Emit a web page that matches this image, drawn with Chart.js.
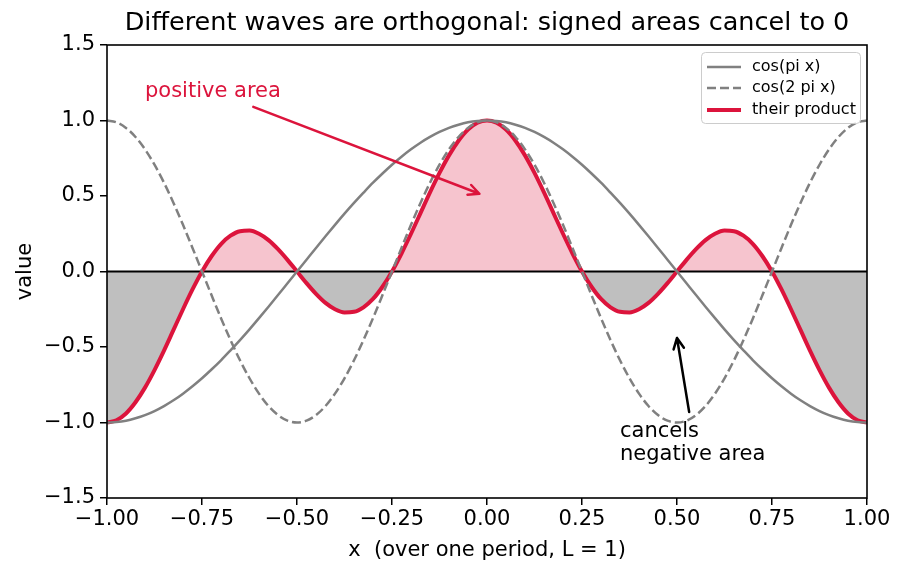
<!DOCTYPE html>
<html>
<head>
<meta charset="utf-8">
<script src="https://cdn.jsdelivr.net/npm/chart.js@4.4.1/dist/chart.umd.min.js"></script>
<style>
  html, body { margin: 0; padding: 0; background: #fff; }
  #wrap { width: 904px; height: 573px; }
</style>
</head>
<body>
<div id="wrap"><canvas id="chart"></canvas></div>
<script>
// x samples over one period
const xs = [
  -1, -0.975, -0.95, -0.925, -0.9, -0.875, -0.85, -0.825, -0.8, -0.775,
  -0.75, -0.725, -0.7, -0.675, -0.65, -0.625, -0.6, -0.575, -0.55, -0.525,
  -0.5, -0.475, -0.45, -0.425, -0.4, -0.375, -0.35, -0.325, -0.3, -0.275,
  -0.25, -0.225, -0.2, -0.175, -0.15, -0.125, -0.1, -0.075, -0.05, -0.025,
  0,
  0.025, 0.05, 0.075, 0.1, 0.125, 0.15, 0.175, 0.2, 0.225, 0.25,
  0.275, 0.3, 0.325, 0.35, 0.375, 0.4, 0.425, 0.45, 0.475, 0.5,
  0.525, 0.55, 0.575, 0.6, 0.625, 0.65, 0.675, 0.7, 0.725, 0.75,
  0.775, 0.8, 0.825, 0.85, 0.875, 0.9, 0.925, 0.95, 0.975, 1
];
const cosPi = [
  -1.000, -0.997, -0.988, -0.972, -0.951, -0.924, -0.891, -0.853, -0.809, -0.760,
  -0.707, -0.649, -0.588, -0.522, -0.454, -0.383, -0.309, -0.233, -0.156, -0.078,
  0.000, 0.078, 0.156, 0.233, 0.309, 0.383, 0.454, 0.522, 0.588, 0.649,
  0.707, 0.760, 0.809, 0.853, 0.891, 0.924, 0.951, 0.972, 0.988, 0.997,
  1.000,
  0.997, 0.988, 0.972, 0.951, 0.924, 0.891, 0.853, 0.809, 0.760, 0.707,
  0.649, 0.588, 0.522, 0.454, 0.383, 0.309, 0.233, 0.156, 0.078, 0.000,
  -0.078, -0.156, -0.233, -0.309, -0.383, -0.454, -0.522, -0.588, -0.649, -0.707,
  -0.760, -0.809, -0.853, -0.891, -0.924, -0.951, -0.972, -0.988, -0.997, -1.000
];
const cos2Pi = [
  1.000, 0.988, 0.951, 0.891, 0.809, 0.707, 0.588, 0.454, 0.309, 0.156,
  0.000, -0.156, -0.309, -0.454, -0.588, -0.707, -0.809, -0.891, -0.951, -0.988,
  -1.000, -0.988, -0.951, -0.891, -0.809, -0.707, -0.588, -0.454, -0.309, -0.156,
  0.000, 0.156, 0.309, 0.454, 0.588, 0.707, 0.809, 0.891, 0.951, 0.988,
  1.000,
  0.988, 0.951, 0.891, 0.809, 0.707, 0.588, 0.454, 0.309, 0.156, 0.000,
  -0.156, -0.309, -0.454, -0.588, -0.707, -0.809, -0.891, -0.951, -0.988, -1.000,
  -0.988, -0.951, -0.891, -0.809, -0.707, -0.588, -0.454, -0.309, -0.156, 0.000,
  0.156, 0.309, 0.454, 0.588, 0.707, 0.809, 0.891, 0.951, 0.988, 1.000
];
const product = [
  -1.000, -0.985, -0.940, -0.866, -0.769, -0.653, -0.524, -0.387, -0.250, -0.119,
  0.000, 0.101, 0.182, 0.237, 0.267, 0.271, 0.250, 0.208, 0.148, 0.077,
  0.000, -0.077, -0.148, -0.208, -0.250, -0.271, -0.267, -0.237, -0.182, -0.101,
  0.000, 0.119, 0.250, 0.387, 0.524, 0.653, 0.769, 0.866, 0.940, 0.985,
  1.000,
  0.985, 0.940, 0.866, 0.769, 0.653, 0.524, 0.387, 0.250, 0.119, 0.000,
  -0.101, -0.182, -0.237, -0.267, -0.271, -0.250, -0.208, -0.148, -0.077, 0.000,
  0.077, 0.148, 0.208, 0.250, 0.271, 0.267, 0.237, 0.182, 0.101, 0.000,
  -0.119, -0.250, -0.387, -0.524, -0.653, -0.769, -0.866, -0.940, -0.985, -1.000
];
const xTicks = [-1, -0.75, -0.5, -0.25, 0, 0.25, 0.5, 0.75, 1];
const yTicks = [-1.5, -1, -0.5, 0, 0.5, 1, 1.5];
const seriesNames = ['cos(pi x)', 'cos(2 pi x)', 'their product'];

const FONT = "'DejaVu Sans', sans-serif";
const CRIMSON = '#dc143c';
const GREY = '#808080';

const pts = (ys) => xs.map((x, i) => ({ x: x, y: ys[i] }));
const fmt = (v, d) => v.toFixed(d).replace('-', '\u2212');

function arrow(ctx, x0, y0, x1, y1, color, lw) {
  const a = Math.atan2(y1 - y0, x1 - x0);
  const h = 12, spread = 0.45;
  ctx.save();
  ctx.strokeStyle = color;
  ctx.lineWidth = lw;
  ctx.lineCap = 'round';
  ctx.lineJoin = 'round';
  ctx.beginPath();
  ctx.moveTo(x0, y0);
  ctx.lineTo(x1, y1);
  ctx.moveTo(x1 - h * Math.cos(a - spread), y1 - h * Math.sin(a - spread));
  ctx.lineTo(x1, y1);
  ctx.lineTo(x1 - h * Math.cos(a + spread), y1 - h * Math.sin(a + spread));
  ctx.stroke();
  ctx.restore();
}

const decor = {
  id: 'decor',
  beforeDraw(chart) {
    const ctx = chart.ctx;
    ctx.save();
    ctx.fillStyle = '#fff';
    ctx.fillRect(0, 0, chart.width, chart.height);
    ctx.restore();
  },
  beforeDatasetsDraw(chart) {
    const { ctx, chartArea: a, scales } = chart;
    const y0 = scales.y.getPixelForValue(0);
    ctx.save();
    ctx.strokeStyle = '#000';
    ctx.lineWidth = 1.8;
    ctx.beginPath();
    ctx.moveTo(a.left, y0);
    ctx.lineTo(a.right, y0);
    ctx.stroke();
    ctx.restore();
  },
  afterDatasetsDraw(chart) {
    const { ctx, chartArea: a, scales } = chart;
    const px = (v) => scales.x.getPixelForValue(v);
    const py = (v) => scales.y.getPixelForValue(v);

    // frame
    ctx.save();
    ctx.strokeStyle = '#000';
    ctx.lineWidth = 1.6;
    ctx.strokeRect(a.left, a.top, a.right - a.left, a.bottom - a.top);
    ctx.restore();

    // title
    ctx.save();
    ctx.fillStyle = '#000';
    ctx.font = '25.5px ' + FONT;
    ctx.textAlign = 'center';
    ctx.textBaseline = 'middle';
    ctx.fillText('Different waves are orthogonal: signed areas cancel to 0', (a.left + a.right) / 2, 23);
    ctx.restore();

    // annotations
    ctx.save();
    ctx.font = '21px ' + FONT;
    ctx.textAlign = 'left';
    ctx.textBaseline = 'middle';
    ctx.fillStyle = CRIMSON;
    ctx.fillText('positive area', px(-0.9), py(1.19));
    ctx.fillStyle = '#000';
    ctx.fillText('cancels', px(0.35), py(-1.06));
    ctx.fillText('negative area', px(0.35), py(-1.21));
    ctx.restore();
    arrow(ctx, px(-0.615), py(1.09), px(-0.02), py(0.515), CRIMSON, 2.5);
    arrow(ctx, px(0.532), py(-0.93), px(0.5), py(-0.44), '#000', 2.5);

    // legend
    ctx.save();
    ctx.fillStyle = 'rgba(255,255,255,0.85)';
    ctx.strokeStyle = '#cccccc';
    ctx.lineWidth = 1;
    ctx.beginPath();
    ctx.roundRect(701.5, 52.5, 159, 71, 4);
    ctx.fill();
    ctx.stroke();
    const rows = [67, 88, 110];
    const styles = [
      { c: GREY, w: 2.5, d: [] },
      { c: GREY, w: 2.5, d: [9, 4] },
      { c: CRIMSON, w: 4, d: [] }
    ];
    ctx.font = '16px ' + FONT;
    ctx.textBaseline = 'middle';
    rows.forEach((ry, i) => {
      ctx.strokeStyle = styles[i].c;
      ctx.lineWidth = styles[i].w;
      ctx.setLineDash(styles[i].d);
      ctx.beginPath();
      ctx.moveTo(707, ry);
      ctx.lineTo(741, ry);
      ctx.stroke();
      ctx.fillStyle = '#000';
      ctx.fillText(seriesNames[i], 752, ry);
    });
    ctx.restore();
  }
};

new Chart(document.getElementById('chart').getContext('2d'), {
  type: 'line',
  data: {
    datasets: [
      {
        label: seriesNames[0],
        data: pts(cosPi),
        borderColor: GREY,
        borderWidth: 2.5,
        pointRadius: 0,
        fill: false,
        cubicInterpolationMode: 'monotone'
      },
      {
        label: seriesNames[1],
        data: pts(cos2Pi),
        borderColor: GREY,
        borderWidth: 2.5,
        borderDash: [9, 4],
        pointRadius: 0,
        fill: false,
        cubicInterpolationMode: 'monotone'
      },
      {
        label: seriesNames[2],
        data: pts(product),
        borderColor: CRIMSON,
        borderWidth: 4,
        pointRadius: 0,
        fill: { target: 'origin', above: 'rgba(220,20,60,0.25)', below: 'rgba(128,128,128,0.5)' },
        cubicInterpolationMode: 'monotone'
      }
    ]
  },
  options: {
    responsive: true,
    maintainAspectRatio: false,
    devicePixelRatio: 1,
    animation: false,
    events: [],
    layout: { padding: { top: 45, right: 37, bottom: 0, left: 0 } },
    plugins: {
      legend: { display: false },
      title: { display: false },
      tooltip: { enabled: false },
      filler: { drawTime: 'beforeDatasetsDraw' }
    },
    scales: {
      x: {
        type: 'linear',
        min: -1,
        max: 1,
        afterFit: (s) => { s.height = 75; },
        afterBuildTicks: (s) => { s.ticks = xTicks.map(v => ({ value: v })); },
        border: { display: false },
        grid: { drawOnChartArea: false, drawTicks: true, tickLength: 7, color: '#000', lineWidth: 1.5 },
        ticks: {
          color: '#000',
          font: { family: FONT, size: 21 },
          padding: 2,
          maxRotation: 0,
          autoSkip: false,
          callback: (v) => fmt(v, 2)
        },
        title: {
          display: true,
          text: 'x  (over one period, L = 1)',
          color: '#000',
          font: { family: FONT, size: 21 },
          padding: { top: 0, bottom: 10 }
        }
      },
      y: {
        type: 'linear',
        min: -1.5,
        max: 1.5,
        afterFit: (s) => { s.width = 107; },
        afterBuildTicks: (s) => { s.ticks = yTicks.map(v => ({ value: v })); },
        border: { display: false },
        grid: { drawOnChartArea: false, drawTicks: true, tickLength: 7, color: '#000', lineWidth: 1.5 },
        ticks: {
          color: '#000',
          font: { family: FONT, size: 21 },
          padding: 5,
          autoSkip: false,
          callback: (v) => fmt(v, 1)
        },
        title: {
          display: true,
          text: 'value',
          color: '#000',
          font: { family: FONT, size: 21 },
          padding: { top: 13, bottom: 0 }
        }
      }
    }
  },
  plugins: [decor]
});
</script>
</body>
</html>
